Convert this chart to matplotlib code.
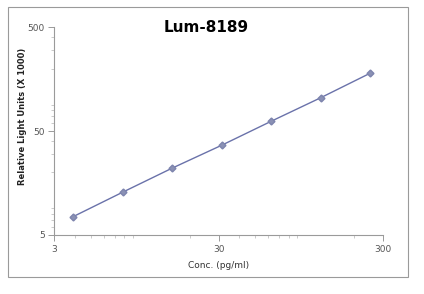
import numpy as np
import matplotlib
matplotlib.use('Agg')
import matplotlib.pyplot as plt
from matplotlib.patches import Rectangle
from matplotlib.ticker import FixedLocator, LogLocator, NullFormatter

#data
conc = [3.9, 7.8, 15.6, 31.25, 62.5, 125, 250]
rlu = [7.5, 12.9, 22.0, 36.6, 62.3, 105, 181]
xticks = [3, 30, 300]
yticks = [5, 50, 500]

fig = plt.figure(figsize=(4.24, 2.94), dpi=100)
ax = fig.add_axes([0.128, 0.2007, 0.776, 0.7063])

ax.plot(conc, rlu, color='#6a72aa', lw=1.0, marker='D', markersize=3.5,
        markerfacecolor='#8b91b5', markeredgecolor='#7d84ad')
ax.set_xscale('log')
ax.set_yscale('log')
ax.set_xlim(3, 300)
ax.set_ylim(5, 500)

ax.xaxis.set_major_locator(FixedLocator(xticks))
ax.yaxis.set_major_locator(FixedLocator(yticks))
ax.set_xticklabels([str(t) for t in xticks])
ax.set_yticklabels([str(t) for t in yticks])
ax.xaxis.set_minor_locator(LogLocator(base=10, subs=np.arange(2, 10)))
ax.yaxis.set_minor_locator(LogLocator(base=10, subs=np.arange(2, 10)))
ax.xaxis.set_minor_formatter(NullFormatter())
ax.yaxis.set_minor_formatter(NullFormatter())

for s in ['top', 'right']:
    ax.spines[s].set_visible(False)
for s in ['left', 'bottom']:
    ax.spines[s].set_color('#9a9a9a')
    ax.spines[s].set_linewidth(0.8)
ax.tick_params(which='major', length=4, width=0.7, color='#9a9a9a',
               labelsize=6.5, labelcolor='#555555', pad=3)
ax.tick_params(which='minor', length=2, width=0.5, color='#b5b5b5')

fig.text(206 / 424, 1 - 28 / 294, 'Lum-8189', fontsize=11, fontweight='bold',
         ha='center', va='center')
ax.set_xlabel('Conc. (pg/ml)', fontsize=6.5, color='#333333', labelpad=5)
ax.set_ylabel('Relative Light Units (X 1000)', fontsize=6, fontweight='bold',
              color='#222222')
ax.yaxis.set_label_coords(-0.082, 0.573)

#chart border like excel
fig.patches.append(Rectangle((8 / 424, 1 - 277 / 294), 400 / 424, 270 / 294,
                             transform=fig.transFigure, fill=False,
                             edgecolor='#9a9a9a', lw=0.8))

fig.savefig('out.png', dpi=100)
